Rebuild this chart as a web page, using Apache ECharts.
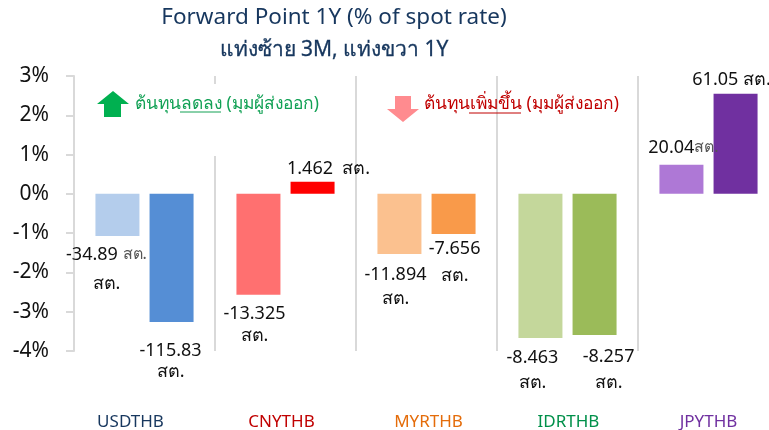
<!DOCTYPE html>
<html>
    <head>
        <meta charset="utf-8">
        <script src="https://cdn.jsdelivr.net/npm/echarts@6/dist/echarts.min.js"></script>
        <style>
            html, body{
                width: 100%;
                height: 100%;
                margin: 0;
                background: #fff;
            }
            #main{
                width: 769px;
                height: 430px;
            }
        </style>
    </head>
    <body>
        <div id="main"></div>
        <script>
            var categories = ['USDTHB', 'CNYTHB', 'MYRTHB', 'IDRTHB', 'JPYTHB'];
            var yTicks = [-4, -3, -2, -1, 0, 1, 2, 3];
            var values3M = [-1.07, -2.57, -1.53, -3.67, 0.74];
            var values1Y = [-3.26, 0.31, -1.02, -3.59, 2.55];
            var labels3M = ['-34.89 {g|สต.}\nสต.', '-13.325\nสต.', '-11.894\nสต.', '-8.463\nสต.', '20.04{g|สต.}'];
            var labels1Y = ['-115.83\nสต.', '1.462  สต.', '-7.656\nสต.', '-8.257\nสต.', '61.05 สต.'];
            var colors3M = ['#b4cdec', '#ff7070', '#fbc18f', '#c4d79b', '#ae78d6'];
            var colors1Y = ['#558ed5', '#ff0000', '#f99a4a', '#9bbb59', '#7030a0'];
            var categoryColors = ['#17375e', '#c00000', '#e46c0a', '#00904a', '#7030a0'];

            // hand placed labels, they do not sit evenly on the bars
            var offsets3M = [[-11, -1], [-4, 3], [-4, 4], [-8, 2], [2, -2]];
            var offsets1Y = [[-1, 13], [16, 2], [1, -4], [14, 4], [-4, 1]];
            var lineHeights3M = [29, 22, 24, 25, 20];
            var lineHeights1Y = [21, 20, 27, 26, 20];
            var categoryShift = [-14, -4, 2, 1, 0];

            var FONT = '"Noto Sans", "DejaVu Sans", sans-serif';

            function barData(values, colors, labels, offsets, lineHeights) {
                return values.map(function (v, i) {
                    return {
                        value: v,
                        itemStyle: { color: colors[i] },
                        label: {
                            show: true,
                            position: v < 0 ? 'bottom' : 'top',
                            offset: offsets[i],
                            lineHeight: lineHeights[i],
                            formatter: labels[i]
                        }
                    };
                });
            }

            var categoryRich = {};
            categories.forEach(function (name, i) {
                var s = categoryShift[i];
                categoryRich['c' + i] = {
                    color: categoryColors[i],
                    fontSize: 17,
                    fontFamily: FONT,
                    padding: s < 0 ? [0, -2 * s, 0, 0] : [0, 0, 0, 2 * s]
                };
            });

            var valueLabel = {
                color: '#111',
                fontSize: 18,
                fontFamily: FONT,
                rich: {
                    g: { color: '#555', fontSize: 16, fontFamily: FONT }
                }
            };

            var chart = echarts.init(document.getElementById('main'), null, { renderer: 'canvas' });
            var option = {
                animation: false,
                grid: { left: 74, top: 76, width: 705, height: 275, outerBoundsMode: 'none' },
                title: [
                    {
                        text: 'Forward Point 1Y (% of spot rate)',
                        left: 329, top: 1, textAlign: 'center',
                        textStyle: { color: '#17375e', fontSize: 22.5, fontWeight: 'normal', fontFamily: FONT }
                    },
                    {
                        text: 'แท่งซ้าย 3M, แท่งขวา 1Y',
                        left: 329, top: 35, textAlign: 'center',
                        textStyle: {
                            color: '#17375e', fontSize: 21, fontWeight: 'normal', fontFamily: FONT,
                            textBorderColor: '#17375e', textBorderWidth: 0.3
                        }
                    }
                ],
                xAxis: {
                    type: 'category',
                    data: categories,
                    position: 'bottom',
                    axisLine: { show: false, onZero: false },
                    axisTick: { show: false },
                    splitLine: { show: true, interval: 0, lineStyle: { color: '#d9d9d9', width: 2 } },
                    axisLabel: {
                        interval: 0,
                        margin: 63,
                        formatter: function (name) {
                            return '{c' + categories.indexOf(name) + '|' + name + '}';
                        },
                        rich: categoryRich
                    }
                },
                yAxis: {
                    type: 'value',
                    min: yTicks[0],
                    max: yTicks[yTicks.length - 1],
                    interval: 1,
                    splitLine: { show: false },
                    axisLine: { show: true, lineStyle: { color: '#d9d9d9', width: 2 } },
                    axisTick: { show: true, length: 8, lineStyle: { color: '#d9d9d9', width: 2 } },
                    axisLabel: {
                        margin: 25,
                        color: '#111',
                        fontSize: 21,
                        fontFamily: FONT,
                        formatter: '{value}%'
                    }
                },
                series: [
                    {
                        type: 'bar',
                        barWidth: 44,
                        barGap: '23%',
                        label: valueLabel,
                        data: barData(values3M, colors3M, labels3M, offsets3M, lineHeights3M)
                    },
                    {
                        type: 'bar',
                        barWidth: 44,
                        label: valueLabel,
                        data: barData(values1Y, colors1Y, labels1Y, offsets1Y, lineHeights1Y)
                    }
                ],
                graphic: [
                    // white box of the note hides part of the divider
                    { type: 'rect', z: 50, shape: { x: 212, y: 84, width: 6, height: 72 }, style: { fill: '#fff' } },
                    {
                        type: 'polygon', z: 60,
                        shape: { points: [[113, 91], [129, 104], [121, 104], [121, 117], [104, 117], [104, 104], [97, 104]] },
                        style: { fill: '#00b050' }
                    },
                    {
                        type: 'text', z: 60, x: 135, y: 96,
                        style: { text: 'ต้นทุนลดลง (มุมผู้ส่งออก)', fill: '#12a155', fontSize: 17.4, fontFamily: FONT }
                    },
                    { type: 'line', z: 60, shape: { x1: 180, y1: 112, x2: 221, y2: 112 }, style: { stroke: '#12a155', lineWidth: 1 } },
                    {
                        type: 'polygon', z: 60,
                        shape: { points: [[395, 96], [411, 96], [411, 109], [419, 109], [403, 122], [387, 109], [395, 109]] },
                        style: { fill: '#ff8b8f' }
                    },
                    {
                        type: 'text', z: 60, x: 424, y: 96,
                        style: { text: 'ต้นทุนเพิ่มขึ้น (มุมผู้ส่งออก)', fill: '#c00000', fontSize: 17.4, fontFamily: FONT }
                    },
                    { type: 'line', z: 60, shape: { x1: 469, y1: 113, x2: 521, y2: 113 }, style: { stroke: '#c00000', lineWidth: 1 } }
                ]
            };
            chart.setOption(option);
        </script>
    </body>
</html>
